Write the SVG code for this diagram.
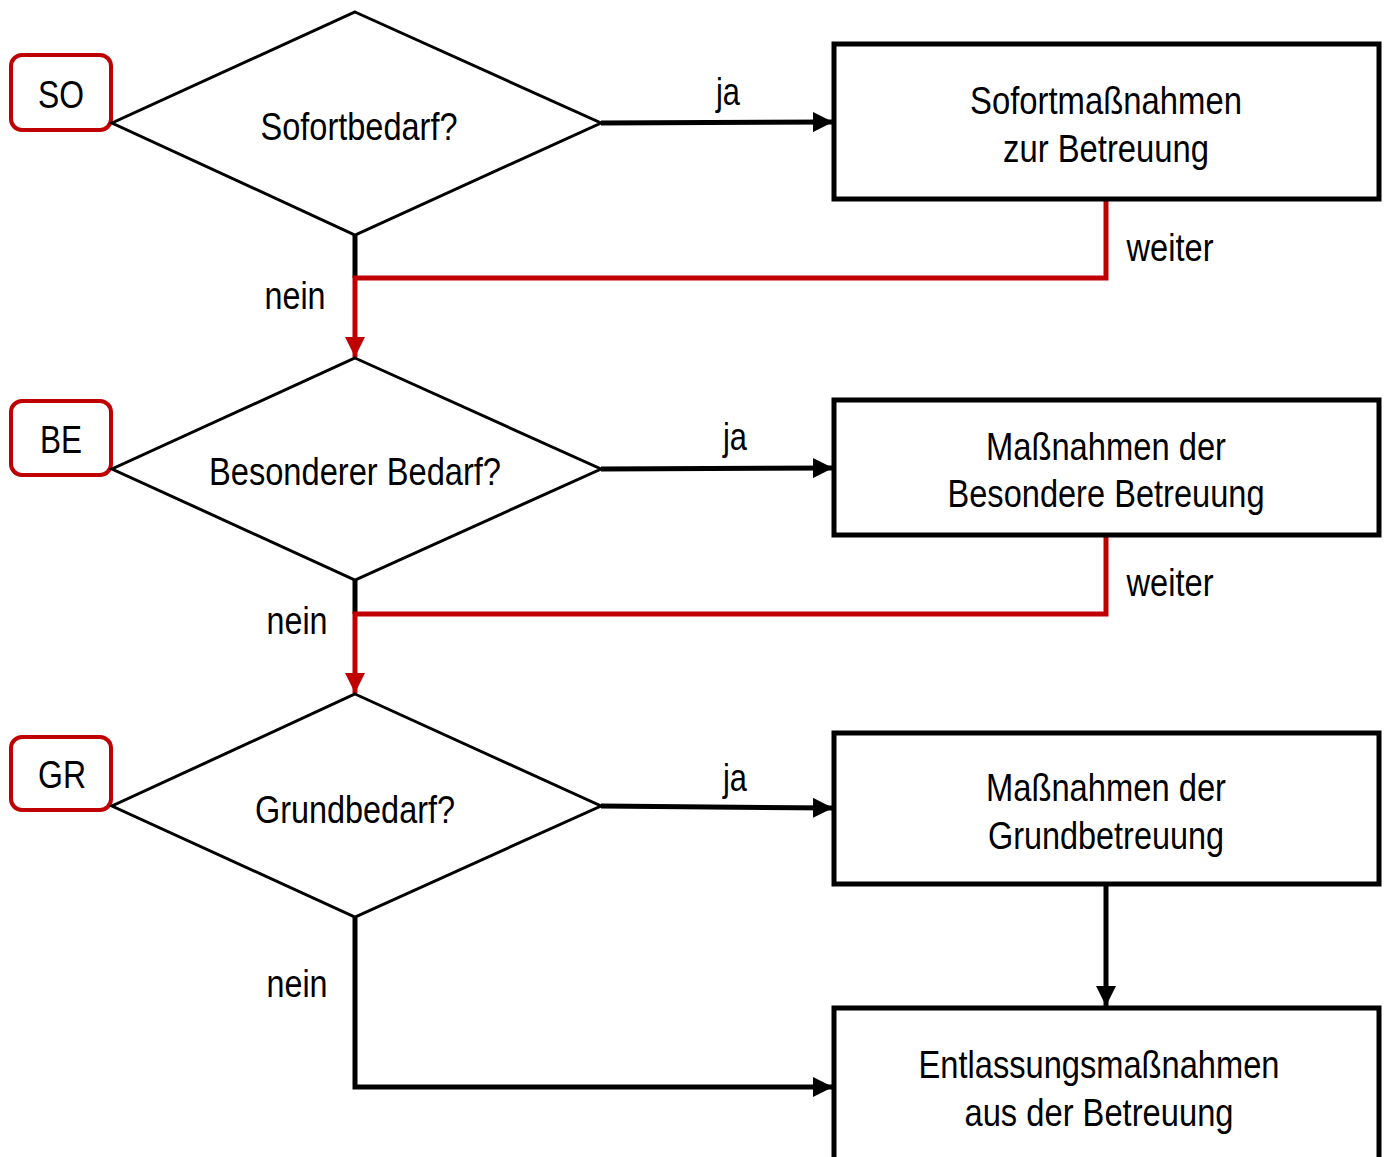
<svg xmlns="http://www.w3.org/2000/svg" width="1384" height="1157" viewBox="0 0 1384 1157">
<style>
text{font-family:"Liberation Sans","Arial",sans-serif;font-size:39px;fill:#000;text-anchor:middle}
.dia{fill:#fff;stroke:#000;stroke-width:3}
.box{fill:#fff;stroke:#000;stroke-width:5}
.tag{fill:#fff;stroke:#c00000;stroke-width:4}
.blk{fill:none;stroke:#000;stroke-width:5}
.red{fill:none;stroke:#c00000;stroke-width:5}
</style>
<defs>
<marker id="ab" viewBox="0 0 10 10" refX="10" refY="5" markerWidth="4" markerHeight="4" markerUnits="strokeWidth" orient="auto"><path d="M0,0L10,5L0,10z" fill="#000"/></marker>
<marker id="ar" viewBox="0 0 10 10" refX="10" refY="5" markerWidth="4" markerHeight="4" markerUnits="strokeWidth" orient="auto"><path d="M0,0L10,5L0,10z" fill="#c00000"/></marker>
</defs>
<g id="connectors">
<path class="blk" d="M601,123L833,122" marker-end="url(#ab)"/>
<path class="blk" d="M355,235V278"/>
<path class="red" d="M1106,199V278H355V357" marker-end="url(#ar)"/>
<path class="blk" d="M601,469L833,468" marker-end="url(#ab)"/>
<path class="blk" d="M355,580V614"/>
<path class="red" d="M1106,535V614H355V693" marker-end="url(#ar)"/>
<path class="blk" d="M601,806L833,808" marker-end="url(#ab)"/>
<path class="blk" d="M1106,884V1006" marker-end="url(#ab)"/>
<path class="blk" d="M355,917V1087H833" marker-end="url(#ab)"/>
<text x="728" y="105" textLength="24" lengthAdjust="spacingAndGlyphs">ja</text>
<text x="735" y="450" textLength="24" lengthAdjust="spacingAndGlyphs">ja</text>
<text x="735" y="791" textLength="24" lengthAdjust="spacingAndGlyphs">ja</text>
<text x="1170" y="261" textLength="87" lengthAdjust="spacingAndGlyphs">weiter</text>
<text x="1170" y="596" textLength="87" lengthAdjust="spacingAndGlyphs">weiter</text>
<text x="295" y="309" textLength="61" lengthAdjust="spacingAndGlyphs">nein</text>
<text x="297" y="634" textLength="61" lengthAdjust="spacingAndGlyphs">nein</text>
<text x="297" y="997" textLength="61" lengthAdjust="spacingAndGlyphs">nein</text>
</g>
<g id="so"><rect class="tag" x="11" y="55" width="100" height="75" rx="11"/><text x="61" y="108" textLength="46" lengthAdjust="spacingAndGlyphs">SO</text></g>
<g id="be"><rect class="tag" x="11" y="401" width="100" height="74" rx="11"/><text x="61" y="453" textLength="42" lengthAdjust="spacingAndGlyphs">BE</text></g>
<g id="gr"><rect class="tag" x="11" y="737" width="100" height="73" rx="11"/><text x="62" y="788" textLength="48" lengthAdjust="spacingAndGlyphs">GR</text></g>
<g id="d1"><path class="dia" d="M355,12L601,123L355,235L112,123Z"/><text x="359" y="140" textLength="197" lengthAdjust="spacingAndGlyphs">Sofortbedarf?</text></g>
<g id="d2"><path class="dia" d="M355,358L601,469L355,580L112,469Z"/><text x="355" y="485" textLength="292" lengthAdjust="spacingAndGlyphs">Besonderer Bedarf?</text></g>
<g id="d3"><path class="dia" d="M355,694L601,806L355,917L112,806Z"/><text x="355" y="823" textLength="200" lengthAdjust="spacingAndGlyphs">Grundbedarf?</text></g>
<g id="b1"><rect class="box" x="834" y="44" width="545" height="155"/><text x="1106" y="114" textLength="272" lengthAdjust="spacingAndGlyphs">Sofortmaßnahmen</text><text x="1106" y="162" textLength="206" lengthAdjust="spacingAndGlyphs">zur Betreuung</text></g>
<g id="b2"><rect class="box" x="834" y="400" width="545" height="135"/><text x="1106" y="460" textLength="240" lengthAdjust="spacingAndGlyphs">Maßnahmen der</text><text x="1106" y="507" textLength="317" lengthAdjust="spacingAndGlyphs">Besondere Betreuung</text></g>
<g id="b3"><rect class="box" x="834" y="733" width="545" height="151"/><text x="1106" y="801" textLength="240" lengthAdjust="spacingAndGlyphs">Maßnahmen der</text><text x="1106" y="849" textLength="236" lengthAdjust="spacingAndGlyphs">Grundbetreuung</text></g>
<g id="b4"><rect class="box" x="834" y="1008" width="545" height="160"/><text x="1099" y="1078" textLength="361" lengthAdjust="spacingAndGlyphs">Entlassungsmaßnahmen</text><text x="1099" y="1126" textLength="269" lengthAdjust="spacingAndGlyphs">aus der Betreuung</text></g>
</svg>
